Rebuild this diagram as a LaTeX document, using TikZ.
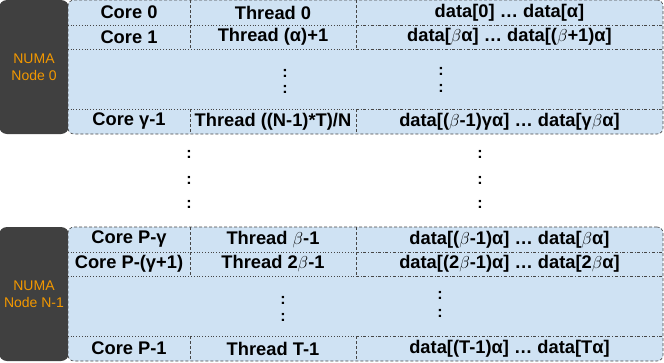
\documentclass[tikz,border=0pt]{standalone}
\usepackage{fontspec}
\setmainfont{Liberation Sans}
\usepackage{tikz}
\usetikzlibrary{positioning, shapes, arrows.meta, backgrounds, calc}
\definecolor{NUMAGray}{RGB}{64,64,64}
\definecolor{NUMAOrange}{RGB}{243,152,0}
\definecolor{CellBlue}{RGB}{207,226,243}
\definecolor{LineGray}{RGB}{70,70,70}

\begin{document}
\begin{tikzpicture}[
  x=1pt, y=-1pt,
  numa/.style={rectangle, rounded corners=8pt, fill=NUMAGray, minimum width=70pt, text=NUMAOrange, align=center, font=\fontsize{14}{16.5}\selectfont},
  block/.style={rectangle, rounded corners=6pt, draw=LineGray, densely dashed, line width=0.6pt, fill=CellBlue, minimum width=595pt},
  corecell/.style={rectangle, minimum width=122pt, minimum height=24.5pt, inner sep=0pt, font=\fontsize{18.3}{21}\selectfont\bfseries},
  thrcell/.style={corecell, minimum width=166pt},
  datcell/.style={corecell, minimum width=307pt},
  rowsep/.style={LineGray, dotted, line width=0.8pt},
  datsep/.style={LineGray, dash dot, line width=0.6pt},
  colsep/.style={LineGray, densely dashed, line width=0.6pt},
  vdots/.style={inner sep=0pt, font=\fontsize{16}{18}\selectfont\bfseries}
]
\useasboundingbox (0,0) rectangle (664,362);

% Block 1: NUMA Node 0
\node[numa, minimum height=134pt] (numa0) at (34,67) {NUMA\\Node 0};
\node[block, minimum height=134pt] (blk0) at (365.5,67) {};

\node[corecell] (core01) at (129,12.5) {Core 0};
\node[thrcell] (thr01) at (273,12.5) {Thread 0};
\node[datcell] (dat01) at (509.5,12.5) {data[0] … data[α]};

\node[corecell] (core02) at (129,37) {Core 1};
\node[thrcell] (thr02) at (273,37) {Thread (α)+1};
\node[datcell] (dat02) at (509.5,37) {data[$\beta$α] … data[($\beta$+1)α]};

\node[vdots] (dots01) at (285,73) {:};
\node[vdots] (dots02) at (285,89) {:};
\node[vdots] (dots03) at (441,71) {:};
\node[vdots] (dots04) at (441,88) {:};

\node[corecell] (core04) at (129,121.5) {Core γ-1};
\node[thrcell] (thr04) at (273,121.5) {Thread ((N-1)*T)/N};
\node[datcell] (dat04) at (509.5,121.5) {data[($\beta$-1)γα] … data[γ$\beta$α]};

% Separators
\draw[rowsep] (core01.south west) -- (thr01.south east);
\draw[datsep] (dat01.south west) -- (dat01.south east);
\draw[rowsep] (core02.south west) -- (thr02.south east);
\draw[datsep] (dat02.south west) -- (dat02.south east);
\draw[rowsep] (core04.north west) -- (thr04.north east);
\draw[datsep] (dat04.north west) -- (dat04.north east);
\draw[colsep] (core01.north east) -- (core02.south east);
\draw[colsep] (thr01.north east) -- (thr02.south east);
\draw[colsep] (core04.north east) -- (core04.south east);
\draw[colsep] (thr04.north east) -- (thr04.south east);

% Between the blocks
\node[vdots] (gap01) at (189,154) {:};
\node[vdots] (gap02) at (189,180) {:};
\node[vdots] (gap03) at (189,204) {:};
\node[vdots] (gap04) at (480,154) {:};
\node[vdots] (gap05) at (480,180) {:};
\node[vdots] (gap06) at (480,204) {:};

% Block 2: NUMA Node N-1
\node[numa, minimum height=134pt] (numa1) at (34,294) {NUMA\\Node N-1};
\node[block, minimum height=134pt] (blk1) at (365.5,294) {};

\node[corecell] (core11) at (129,239.5) {Core P-γ};
\node[thrcell] (thr11) at (273,239.5) {Thread $\beta$-1};
\node[datcell] (dat11) at (509.5,239.5) {data[($\beta$-1)α] … data[$\beta$α]};

\node[corecell] (core12) at (129,264) {Core P-(γ+1)};
\node[thrcell] (thr12) at (273,264) {Thread 2$\beta$-1};
\node[datcell] (dat12) at (509.5,264) {data[(2$\beta$-1)α] … data[2$\beta$α]};

\node[vdots] (dots11) at (283,300) {:};
\node[vdots] (dots12) at (283,317) {:};
\node[vdots] (dots13) at (440,295) {:};
\node[vdots] (dots14) at (440,313) {:};

\node[corecell] (core14) at (129,348.5) {Core P-1};
\node[thrcell] (thr14) at (273,348.5) {Thread T-1};
\node[datcell] (dat14) at (509.5,348.5) {data[(T-1)α] … data[Tα]};

% Separators
\draw[rowsep] (core11.south west) -- (thr11.south east);
\draw[datsep] (dat11.south west) -- (dat11.south east);
\draw[rowsep] (core12.south west) -- (thr12.south east);
\draw[datsep] (dat12.south west) -- (dat12.south east);
\draw[rowsep] (core14.north west) -- (thr14.north east);
\draw[datsep] (dat14.north west) -- (dat14.north east);
\draw[colsep] (core11.north east) -- (core12.south east);
\draw[colsep] (thr11.north east) -- (thr12.south east);
\draw[colsep] (core14.north east) -- (core14.south east);
\draw[colsep] (thr14.north east) -- (thr14.south east);

\end{tikzpicture}
\end{document}
